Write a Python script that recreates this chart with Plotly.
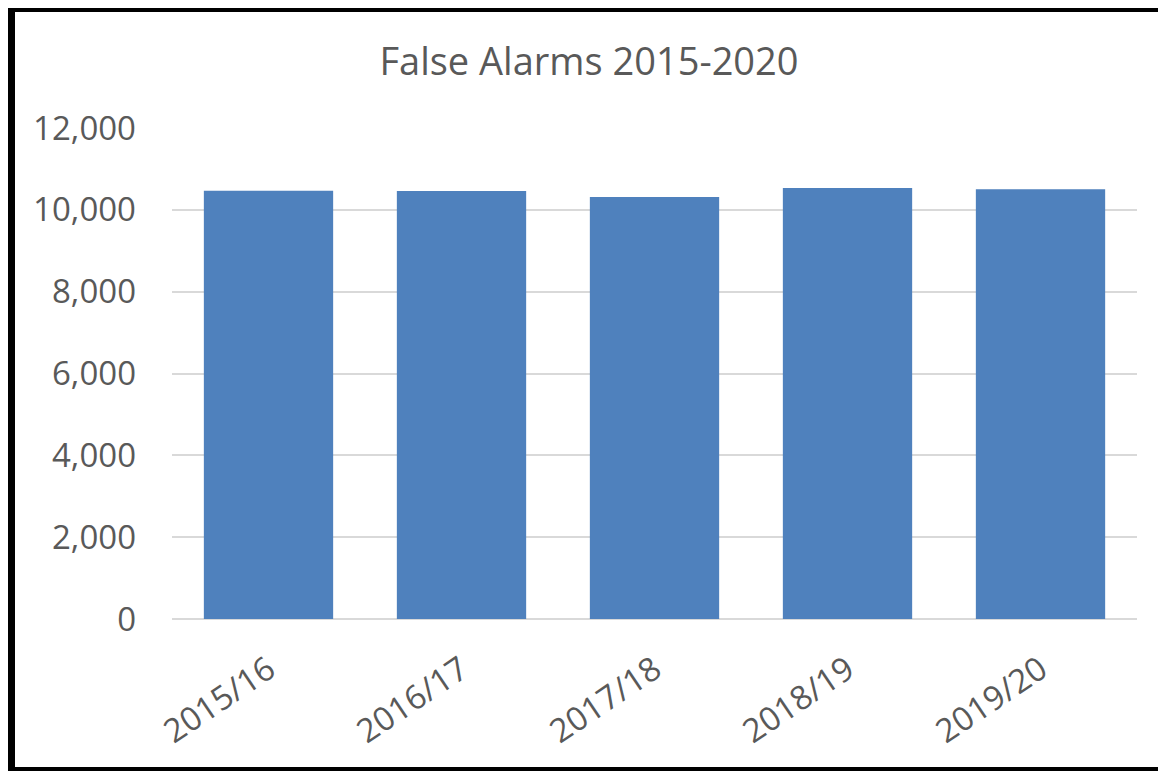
import plotly.graph_objects as go

categories = ["2015/16", "2016/17", "2017/18", "2018/19", "2019/20"]
values = [10465, 10460, 10315, 10535, 10505]
y_ticks = [0, 2000, 4000, 6000, 8000, 10000, 12000]
y_tick_labels = ["0", "2,000", "4,000", "6,000", "8,000", "10,000", "12,000"]
title_text = "False Alarms 2015-2020"

# page body has an 8px margin; figure sized to fill the remaining window
W, H = 1158, 763
L, R, T, B = 164, 29, 120, 152
pw, ph = W - L - R, H - T - B

def px(x):
    return (x - L) / pw

def py(y):
    return (H - B - y) / ph

fig = go.Figure(go.Bar(x=categories, y=values, marker_color="#4F81BD",
                       marker_line_width=0))

font_family = "Open Sans, Liberation Sans, sans-serif"
fig.update_layout(
    width=W, height=H,
    margin=dict(l=L, r=R, t=T, b=B),
    paper_bgcolor="white", plot_bgcolor="white",
    bargap=0.33,
    showlegend=False,
    title=dict(text=title_text, x=581 / W, xanchor="center",
               y=1 - 54 / H, yanchor="middle",
               font=dict(family=font_family, size=38, color="#595959")),
    xaxis=dict(tickangle=-34, tickfont=dict(family=font_family, size=33, color="#595959"),
               showline=False, ticks="", showgrid=False, ticklabelstandoff=24),
    yaxis=dict(range=[0, 12000], tickvals=y_ticks, ticktext=y_tick_labels,
               tickfont=dict(family=font_family, size=33, color="#595959"),
               showgrid=True, gridcolor="#D9D9D9", gridwidth=2,
               zeroline=True, zerolinecolor="#D9D9D9", zerolinewidth=2,
               showline=False, ticks="", ticklabelstandoff=35),
    shapes=[
        dict(type="line", xref="paper", yref="paper", x0=px(3), x1=px(3), y0=py(-4), y1=py(763),
             line=dict(color="black", width=8)),
        dict(type="line", xref="paper", yref="paper", x0=px(-1), x1=px(1158), y0=py(0), y1=py(0),
             line=dict(color="black", width=8)),
        dict(type="line", xref="paper", yref="paper", x0=px(-1), x1=px(1158), y0=py(761), y1=py(761),
             line=dict(color="black", width=4)),
        dict(type="line", xref="paper", yref="paper", x0=px(1157), x1=px(1157), y0=py(4), y1=py(759),
             line=dict(color="#A6A6A6", width=2)),
    ],
)

fig.write_html("out.html")
